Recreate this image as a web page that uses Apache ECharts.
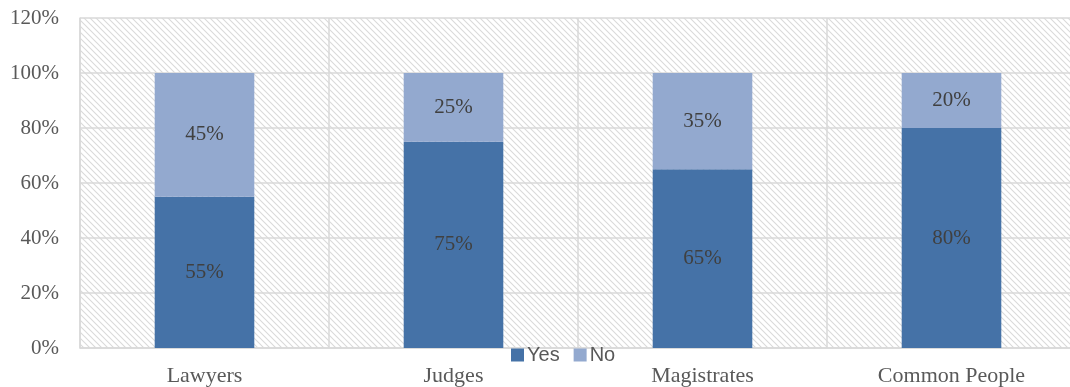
<!DOCTYPE html>
<html>
<head>
<meta charset="utf-8">
<script src="https://cdn.jsdelivr.net/npm/echarts@6/dist/echarts.min.js"></script>
<style>
html,body{margin:0;padding:0;background:#fff;overflow:hidden;}
#chart{width:1070px;height:387px;}
</style>
</head>
<body>
<div id="chart"></div>
<script>
const categories = ['Lawyers', 'Judges', 'Magistrates', 'Common People'];
const yesValues = [55, 75, 65, 80];
const noValues = [45, 25, 35, 20];
const seriesNames = ['Yes', 'No'];

// diagonal hatch tile for the plot background
function hatchTile() {
  const s = 6;
  const c = document.createElement('canvas');
  c.width = s; c.height = s;
  const g = c.getContext('2d');
  g.fillStyle = '#ffffff';
  g.fillRect(0, 0, s, s);
  g.strokeStyle = '#dadada';
  g.lineWidth = 1.1;
  g.beginPath();
  g.moveTo(-1, -1); g.lineTo(s + 1, s + 1);
  g.moveTo(-1, s - 1); g.lineTo(1, s + 1);
  g.moveTo(s - 1, -1); g.lineTo(s + 1, 1);
  g.stroke();
  return c;
}

const chart = echarts.init(document.getElementById('chart'), null, {renderer: 'canvas'});
const labelStyle = {
  show: true, position: 'inside', color: '#404040',
  fontFamily: 'Liberation Serif', fontSize: 21,
  formatter: p => p.value + '%'
};
chart.setOption({
  animation: false,
  grid: {
    left: 80, width: 996, top: 18, bottom: 39, containLabel: false,
    outerBoundsMode: 'none',
    show: true, borderWidth: 0,
    backgroundColor: {image: hatchTile(), repeat: 'repeat'}
  },
  legend: {
    data: seriesNames, top: 340, left: 506,
    itemWidth: 13, itemHeight: 13, itemGap: 14, icon: 'rect',
    textStyle: {fontFamily: 'Liberation Sans', fontSize: 20, color: '#595959', padding: [0, 0, 0, -2]}
  },
  xAxis: {
    type: 'category', data: categories,
    axisLine: {lineStyle: {color: '#d9d9d9', width: 1.5}},
    axisTick: {show: false},
    splitLine: {show: true, lineStyle: {color: '#d9d9d9', width: 1.5}},
    axisLabel: {fontFamily: 'Liberation Serif', fontSize: 22, color: '#595959', margin: 17}
  },
  yAxis: {
    type: 'value', min: 0, max: 120, interval: 20,
    axisLine: {show: true, lineStyle: {color: '#d9d9d9', width: 1.5}},
    axisTick: {show: false},
    splitLine: {lineStyle: {color: '#d9d9d9', width: 1.5}},
    axisLabel: {fontFamily: 'Liberation Serif', fontSize: 21, color: '#595959', margin: 21, formatter: '{value}%'}
  },
  series: [
    {name: 'Yes', type: 'bar', stack: 'a', data: yesValues, barWidth: '40%',
     itemStyle: {color: '#4572A7'}, label: labelStyle},
    {name: 'No', type: 'bar', stack: 'a', data: noValues, barWidth: '40%',
     itemStyle: {color: '#93A9CF'}, label: labelStyle}
  ]
});
</script>
</body>
</html>
